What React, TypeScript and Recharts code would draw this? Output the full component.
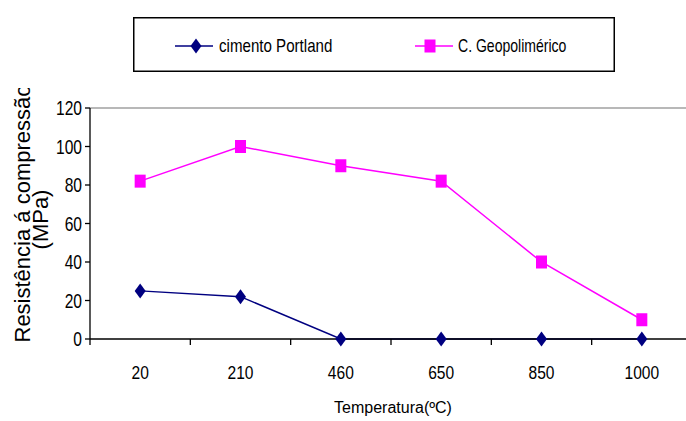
import {
  LineChart,
  Line,
  XAxis,
  YAxis,
  Legend,
  ReferenceLine,
} from "recharts";

const categories = ["20", "210", "460", "650", "850", "1000"];
const portland = [25, 22, 0, 0, 0, 0];
const geopolimerico = [82, 100, 90, 82, 40, 10];
const yTicks = [0, 20, 40, 60, 80, 100, 120];

const NAVY = "#000080";
const MAGENTA = "#FF00FF";
const FONT = "'Liberation Sans', Arial, sans-serif";

// each category sits in the middle of its own unit band on a numeric axis,
// so the tick marks can go on the band edges
const data = categories.map((temp, i) => ({
  temp,
  pos: i + 0.5,
  portland: portland[i],
  geo: geopolimerico[i],
}));

const xTicks = Array.from({ length: categories.length * 2 + 1 }, (_, i) => i / 2);

const diamondPath = (cx: number, cy: number) =>
  `M${cx},${cy - 7.5}L${cx + 5.5},${cy}L${cx},${cy + 7.5}L${cx - 5.5},${cy}Z`;

const DiamondDot = (props: any) => {
  const { cx, cy, index } = props;
  return <path key={`p-${index}`} d={diamondPath(cx, cy)} fill={NAVY} />;
};

const SquareDot = (props: any) => {
  const { cx, cy, index } = props;
  return <rect key={`g-${index}`} x={cx - 5.5} y={cy - 6.5} width={11} height={13} fill={MAGENTA} />;
};

const XTick = (props: any) => {
  const { x, y, payload } = props;
  const v = payload.value as number;
  if (Number.isInteger(v)) {
    return <line x1={x} x2={x} y1={y} y2={y + 6} stroke="#000" strokeWidth={1.3} />;
  }
  return (
    <text
      transform={`translate(${x},${y + 40}) scale(0.82,1)`}
      textAnchor="middle"
      fontSize={19}
      fontFamily={FONT}
      fill="#000"
    >
      {categories[Math.floor(v)]}
    </text>
  );
};

const YTick = (props: any) => {
  const { x, y, payload } = props;
  return (
    <text
      transform={`translate(${x},${y}) scale(0.78,1)`}
      textAnchor="end"
      dy="0.36em"
      fontSize={20}
      fontFamily={FONT}
      fill="#000"
    >
      {payload.value}
    </text>
  );
};

const XTitle = (props: any) => {
  const { viewBox } = props;
  return (
    <text
      x={viewBox.x + viewBox.width / 2 + 2}
      y={413}
      textAnchor="middle"
      fontSize={16}
      fontFamily={FONT}
      fill="#000"
    >
      Temperatura(ºC)
    </text>
  );
};

const YTitle = (props: any) => {
  const { viewBox } = props;
  const cy = viewBox.y + viewBox.height / 2 - 4;
  return (
    <g fontFamily={FONT} fontSize={22} fill="#000">
      <defs>
        <clipPath id="ytitle-clip">
          <rect x={0} y={88} width={90} height={340} />
        </clipPath>
      </defs>
      <g clipPath="url(#ytitle-clip)">
        <text transform={`translate(30,${cy - 6}) rotate(-90)`} textAnchor="middle">
          Resistência á compressão
        </text>
        <text transform={`translate(48,${cy}) rotate(-90)`} textAnchor="middle">
          (MPa)
        </text>
      </g>
    </g>
  );
};

const LegendBox = () => (
  <svg width={482} height={55} style={{ display: "block" }}>
    <rect x={0.75} y={0.75} width={480.5} height={53.5} fill="#fff" stroke="#000" strokeWidth={1.5} />
    <line x1={42} x2={80} y1={29} y2={29} stroke={NAVY} strokeWidth={1.5} />
    <path d={diamondPath(63, 29)} fill={NAVY} />
    <text
      transform="translate(86,35) scale(0.84,1)"
      fontSize={18}
      fontFamily={FONT}
      fill="#000"
    >
      cimento Portland
    </text>
    <line x1={282} x2={320} y1={29} y2={29} stroke={MAGENTA} strokeWidth={1.5} />
    <rect x={291.5} y={22.5} width={11} height={13} fill={MAGENTA} />
    <text
      transform="translate(325,35) scale(0.78,1)"
      fontSize={18}
      fontFamily={FONT}
      fill="#000"
    >
      C. Geopolimérico
    </text>
  </svg>
);

export default function App() {
  return (
    <div
      style={{
        position: "absolute",
        left: 0,
        top: 0,
        width: 686,
        height: 421,
        overflow: "hidden",
        background: "#fff",
      }}
    >
      <LineChart
        width={700}
        height={421}
        data={data}
        margin={{ top: 108, right: 8, left: 0, bottom: 22 }}
      >
        <XAxis
          dataKey="pos"
          type="number"
          domain={[0, categories.length]}
          ticks={xTicks}
          interval={0}
          height={60}
          tickSize={0}
          tickMargin={0}
          tickLine={false}
          tick={<XTick />}
          axisLine={{ stroke: "#000", strokeWidth: 1.3 }}
          label={{ content: <XTitle /> }}
        />
        <YAxis
          width={90}
          domain={[0, 120]}
          ticks={yTicks}
          interval={0}
          tickSize={5}
          tickMargin={3}
          tickLine={{ stroke: "#000", strokeWidth: 1.3 }}
          axisLine={{ stroke: "#000", strokeWidth: 1.3 }}
          tick={<YTick />}
          label={{ content: <YTitle /> }}
        />
        <ReferenceLine y={120} stroke="#a0a0a0" strokeWidth={1.5} />
        <Legend
          layout="horizontal"
          verticalAlign="middle"
          align="center"
          wrapperStyle={{ position: "absolute", top: 17, left: 133, width: 482, height: 55 }}
          content={<LegendBox />}
        />
        <Line
          dataKey="portland"
          stroke={NAVY}
          strokeWidth={1.5}
          dot={DiamondDot}
          activeDot={false}
          isAnimationActive={false}
        />
        <Line
          dataKey="geo"
          stroke={MAGENTA}
          strokeWidth={1.5}
          dot={SquareDot}
          activeDot={false}
          isAnimationActive={false}
        />
      </LineChart>
    </div>
  );
}
